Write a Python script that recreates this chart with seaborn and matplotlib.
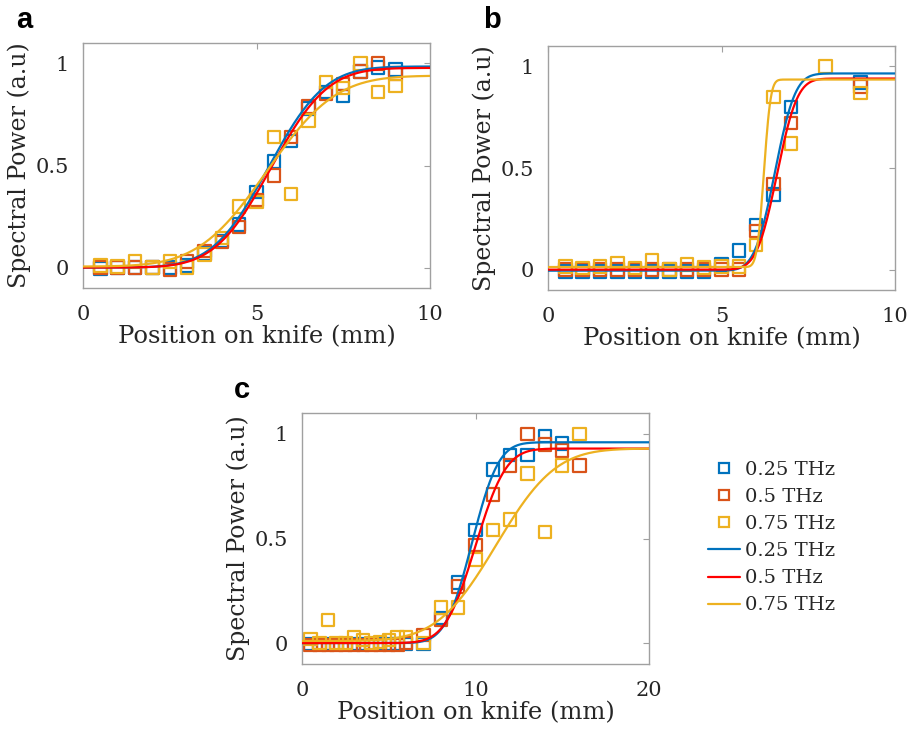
import math
import numpy as np
import pandas as pd
import seaborn as sns
import matplotlib
matplotlib.use("Agg")
import matplotlib.pyplot as plt
from matplotlib.lines import Line2D

# ---------------- data ----------------
freq_labels = ["0.25 THz", "0.5 THz", "0.75 THz"]

# panel a
xa = [0.5, 1, 1.5, 2, 2.5, 3, 3.5, 4, 4.5, 5, 5.5, 6, 6.5, 7, 7.5, 8, 8.5, 9]
a_025 = [-0.005, 0.0, 0.0, 0.0, 0.0, 0.01, 0.07, 0.13, 0.21, 0.37, 0.52, 0.62, 0.78, 0.86, 0.84, 0.96, 0.98, 0.97]
a_050 = [0.0, 0.0, 0.0, 0.0, -0.01, 0.03, 0.08, 0.125, 0.20, 0.33, 0.45, 0.64, 0.79, 0.85, 0.90, 0.96, 1.0, 0.95]
a_075 = [0.01, 0.005, 0.03, 0.0, 0.03, 0.0, 0.065, 0.145, 0.30, 0.32, 0.64, 0.36, 0.72, 0.91, 0.88, 1.0, 0.86, 0.89]

# panel b
xb = [0.5, 1, 1.5, 2, 2.5, 3, 3.5, 4, 4.5, 5, 5.5, 6, 6.5, 7, 8, 9]
b_025 = [-0.01, -0.01, -0.01, -0.01, -0.01, -0.01, -0.01, -0.01, -0.01, 0.025, 0.095, 0.22, 0.37, 0.80, np.nan, 0.92]
b_050 = [0.0, 0.0, 0.0, 0.0, 0.0, 0.0, 0.0, 0.0, 0.0, 0.0, 0.0, 0.19, 0.42, 0.72, np.nan, 0.90]
b_075 = [0.016, 0.008, 0.016, 0.033, 0.008, 0.046, 0.0, 0.025, 0.01, 0.015, 0.015, 0.12, 0.85, 0.62, 1.0, 0.87]

# panel c
xc = [0.5, 1, 1.5, 2, 2.5, 3, 3.5, 4, 4.5, 5, 5.5, 6, 7, 8, 9, 10, 11, 12, 13, 14, 15, 16]
c_025 = [-0.005, -0.005, -0.005, -0.005, -0.005, -0.005, -0.005, -0.005, -0.005, -0.005, -0.005, -0.005, -0.005,
         0.12, 0.29, 0.54, 0.83, 0.90, 0.90, 0.99, 0.955, np.nan]
c_050 = [-0.01, -0.01, -0.01, -0.01, -0.01, -0.01, -0.01, -0.01, -0.01, -0.01, -0.01, 0.0, 0.04,
         0.11, 0.27, 0.47, 0.71, 0.85, 1.0, 0.95, 0.92, 0.85]
c_075 = [0.02, 0.0, 0.11, 0.0, 0.0, 0.03, 0.015, 0.0, 0.005, 0.015, 0.03, 0.03, 0.0,
         0.17, 0.17, 0.40, 0.54, 0.59, 0.81, 0.53, 0.85, 1.0]

# knife-edge (erf) fit parameters: offset, amplitude, centre, width
fit_a = {"0.25 THz": (0.0, 0.985, 5.35, 1.8), "0.5 THz": (0.0, 0.978, 5.42, 1.8), "0.75 THz": (0.005, 0.935, 5.3, 2.2)}
fit_b = {"0.25 THz": (-0.005, 0.97, 6.54, 0.65), "0.5 THz": (0.0, 0.94, 6.6, 0.65), "0.75 THz": (0.013, 0.922, 6.22, 0.22)}
fit_c = {"0.25 THz": (0.0, 0.96, 9.8, 1.7), "0.5 THz": (0.0, 0.93, 10.0, 1.95), "0.75 THz": (0.01, 0.92, 11.2, 3.8)}

x_ticks_ab = [0, 5, 10]
x_ticks_c = [0, 10, 20]
y_ticks = [0, 0.5, 1]
y_ticklabels = ["0", "0.5", "1"]

# ---------------- style ----------------
marker_colors = {"0.25 THz": "#0072BD", "0.5 THz": "#D95319", "0.75 THz": "#EDB120"}
line_colors = {"0.25 THz": "#0072BD", "0.5 THz": "#FF0000", "0.75 THz": "#EDB120"}

sns.set_theme(style="white")
plt.rcParams["font.family"] = ["DejaVu Serif"]
TXT = "#262626"
SPINE = "#a0a0a0"

fig = plt.figure(figsize=(9.11, 7.37), dpi=100, facecolor="white")
W, H = 911, 737


def ax_at(l, t, r, b):
    return fig.add_axes([l / W, 1 - b / H, (r - l) / W, (b - t) / H])


def erf_curve(xs, p):
    off, amp, x0, w = p
    return [off + amp * (1 + math.erf((x - x0) / w)) / 2 for x in xs]


def draw_panel(ax, x, series, fits, xmax, xticks):
    rows = []
    for lab, vals in zip(freq_labels, series):
        for xi, yi in zip(x, vals):
            rows.append({"x": xi, "y": yi, "f": lab})
    df = pd.DataFrame(rows).dropna()
    xs = np.linspace(0, xmax, 400)
    crow = []
    for lab in freq_labels:
        for xi, yi in zip(xs, erf_curve(xs, fits[lab])):
            crow.append({"x": xi, "y": yi, "f": lab})
    cdf = pd.DataFrame(crow)
    for lab in freq_labels:
        sub = df[df["f"] == lab]
        sns.scatterplot(data=sub, x="x", y="y", ax=ax, marker="s", s=80,
                        facecolors="none", edgecolor=marker_colors[lab], linewidth=1.6,
                        legend=False, zorder=2)
    for lab in freq_labels:
        sub = cdf[cdf["f"] == lab]
        sns.lineplot(data=sub, x="x", y="y", ax=ax, color=line_colors[lab], linewidth=1.6,
                     legend=False, zorder=3, estimator=None, sort=False)
    ax.set_xlim(0, xmax)
    ax.set_ylim(-0.1, 1.1)
    ax.set_xticks(xticks)
    ax.set_xticklabels([str(t) for t in xticks])
    ax.set_yticks(y_ticks)
    ax.set_yticklabels(y_ticklabels)
    ax.tick_params(direction="in", length=4, width=0.8, color=SPINE, top=True, right=True,
                   labelsize=15, labelcolor=TXT)
    ax.tick_params(axis="x", pad=12)
    ax.tick_params(axis="y", pad=10)
    for s in ax.spines.values():
        s.set_color(SPINE)
        s.set_linewidth(1.0)
        s.set_visible(True)
    ax.set_xlabel("Position on knife (mm)", fontsize=17.5, color=TXT, labelpad=1)
    ax.set_ylabel("Spectral Power (a.u)", fontsize=17, color=TXT, labelpad=3.5)


axa = ax_at(83, 43, 430, 288)
draw_panel(axa, xa, [a_025, a_050, a_075], fit_a, 10, x_ticks_ab)
axb = ax_at(548, 46, 895, 290)
draw_panel(axb, xb, [b_025, b_050, b_075], fit_b, 10, x_ticks_ab)
axc = ax_at(302, 413, 649, 664)
draw_panel(axc, xc, [c_025, c_050, c_075], fit_c, 20, x_ticks_c)

for lab, (px, py) in zip(["a", "b", "c"], [(16, 20), (483, 20), (234, 390)]):
    fig.text(px / W, 1 - py / H, lab, fontsize=21, fontweight="bold",
             family=["Liberation Sans"], color="black", va="center", ha="left")

handles = []
for lab in freq_labels:
    handles.append(Line2D([], [], marker="s", ls="none", mfc="none", mec=marker_colors[lab],
                          ms=7.5, mew=1.6, label=lab))
for lab in freq_labels:
    handles.append(Line2D([], [], color=line_colors[lab], lw=1.6, label=lab))
fig.legend(handles=handles, loc="upper left", bbox_to_anchor=(700 / W, 1 - 453 / H),
           frameon=False, fontsize=14, handlelength=1.65, handletextpad=0.28,
           labelspacing=0.47, borderaxespad=0, labelcolor=TXT)

fig.savefig("out.png", dpi=100, facecolor="white")
